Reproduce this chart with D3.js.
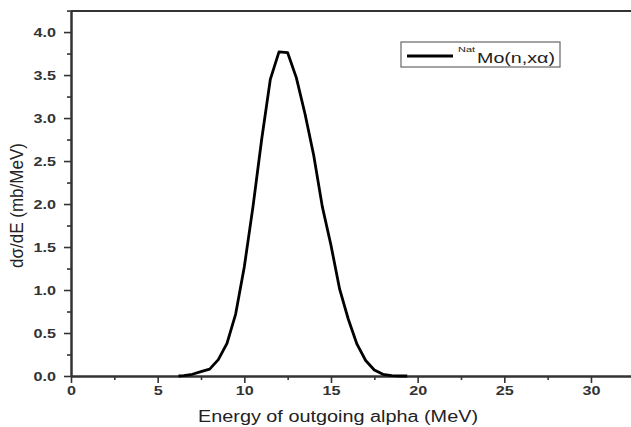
<!DOCTYPE html>
<html>
<head>
<meta charset="utf-8">
<script src="https://cdn.jsdelivr.net/npm/d3@7"></script>
<style>
  html, body { margin: 0; padding: 0; background: #fff; }
  svg { display: block; }
  text { font-family: "Liberation Sans", Arial, sans-serif; }
</style>
</head>
<body>
<svg id="chart" width="631" height="427"></svg>
<script>
// Alpha emission spectrum, natMo(n,xα)
const energy = [6.2, 6.5, 7.0, 7.5, 8.0, 8.5, 9.0, 9.5, 10.0, 10.5, 11.0, 11.5, 12.0, 12.5,
                13.0, 13.5, 14.0, 14.5, 15.0, 15.5, 16.0, 16.5, 17.0, 17.5, 18.0, 18.5, 19.0, 19.4];
const dsigma = [0.0, 0.005, 0.02, 0.05, 0.08, 0.19, 0.38, 0.72, 1.27, 1.97, 2.75, 3.45, 3.77, 3.76,
                3.47, 3.05, 2.57, 1.97, 1.52, 1.01, 0.66, 0.37, 0.18, 0.07, 0.02, 0.005, 0.0, 0.0];

const xMajor = [0, 5, 10, 15, 20, 25, 30];
const xMinor = [2.5, 7.5, 12.5, 17.5, 22.5, 27.5, 32.5];
const yMajor = [0.0, 0.5, 1.0, 1.5, 2.0, 2.5, 3.0, 3.5, 4.0];
const yMinor = [0.25, 0.75, 1.25, 1.75, 2.25, 2.75, 3.25, 3.75, 4.25];

const xTitle = "Energy of outgoing alpha (MeV)";
const yTitle = "dσ/dE (mb/MeV)";
const seriesPrefix = "Nat";
const seriesName = "Mo(n,xα)";

const svg = d3.select("#chart");
const axisColor = "#333";
const stretch = 1.35; // wide tick lettering

const x = d3.scaleLinear().domain([0, 32.5]).range([71, 634.3]);
const y = d3.scaleLinear().domain([0, 4.245]).range([376, 11]);

// frame: top edge
svg.append("line")
  .attr("x1", x(0)).attr("x2", x(32.5))
  .attr("y1", y(4.245)).attr("y2", y(4.245))
  .attr("stroke", axisColor).attr("stroke-width", 2);

function styleAxis(g) {
  g.select(".domain").attr("stroke", axisColor).attr("stroke-width", 2);
  g.selectAll(".tick line").attr("stroke", axisColor).attr("stroke-width", 1.6);
}

// minor ticks
svg.append("g").attr("transform", `translate(0,${y(0)})`)
  .call(d3.axisBottom(x).tickValues(xMinor).tickSize(4).tickSizeOuter(0).tickFormat(""))
  .call(styleAxis);
svg.append("g").attr("transform", `translate(${x(0)},0)`)
  .call(d3.axisLeft(y).tickValues(yMinor).tickSize(4).tickSizeOuter(0).tickFormat(""))
  .call(styleAxis);

// major ticks + labels
const gx = svg.append("g").attr("transform", `translate(0,${y(0)})`)
  .call(d3.axisBottom(x).tickValues(xMajor).tickSize(7).tickSizeOuter(0).tickFormat(d3.format("d")))
  .call(styleAxis);
gx.selectAll(".tick text")
  .attr("y", 19).attr("dy", 0)
  .attr("transform", `scale(${stretch},1)`)
  .attr("font-size", 12).attr("font-weight", "bold")
  .attr("font-family", "Liberation Sans, Arial, sans-serif")
  .attr("fill", axisColor);

const gy = svg.append("g").attr("transform", `translate(${x(0)},0)`)
  .call(d3.axisLeft(y).tickValues(yMajor).tickSize(7).tickSizeOuter(0).tickFormat(d3.format(".1f")))
  .call(styleAxis);
gy.selectAll(".tick text")
  .attr("x", -15 / stretch).attr("dy", "0.36em")
  .attr("transform", `scale(${stretch},1)`)
  .attr("font-size", 12).attr("font-weight", "bold")
  .attr("font-family", "Liberation Sans, Arial, sans-serif")
  .attr("fill", axisColor);

// axis titles
svg.append("text")
  .attr("x", 198).attr("y", 421.5)
  .attr("font-size", 16).attr("fill", "#222")
  .attr("textLength", 280).attr("lengthAdjust", "spacingAndGlyphs")
  .text(xTitle);

svg.append("text")
  .attr("transform", "translate(23,268) rotate(-90) scale(1,1.2)")
  .attr("x", 0).attr("y", 0)
  .attr("font-size", 16).attr("fill", "#222")
  .attr("textLength", 125).attr("lengthAdjust", "spacingAndGlyphs")
  .text(yTitle);

// spectrum curve
const points = energy.map((e, i) => ({ e, v: dsigma[i] }));
const line = d3.line().x(d => x(d.e)).y(d => y(d.v));
svg.append("path")
  .datum(points)
  .attr("d", line)
  .attr("fill", "none")
  .attr("stroke", "#000")
  .attr("stroke-width", 2.8)
  .attr("stroke-linejoin", "round");

// legend
const lg = svg.append("g");
lg.append("rect")
  .attr("x", 401).attr("y", 42).attr("width", 159).attr("height", 25)
  .attr("fill", "#fff").attr("stroke", "#666").attr("stroke-width", 1.2);
lg.append("line")
  .attr("x1", 407).attr("x2", 453).attr("y1", 56).attr("y2", 56)
  .attr("stroke", "#000").attr("stroke-width", 2.8);
lg.append("text")
  .attr("x", 458).attr("y", 52)
  .attr("font-size", 8).attr("fill", "#222")
  .attr("textLength", 17).attr("lengthAdjust", "spacingAndGlyphs")
  .text(seriesPrefix);
lg.append("text")
  .attr("x", 477).attr("y", 63)
  .attr("font-size", 15).attr("fill", "#222")
  .attr("textLength", 78).attr("lengthAdjust", "spacingAndGlyphs")
  .text(seriesName);
</script>
</body>
</html>
